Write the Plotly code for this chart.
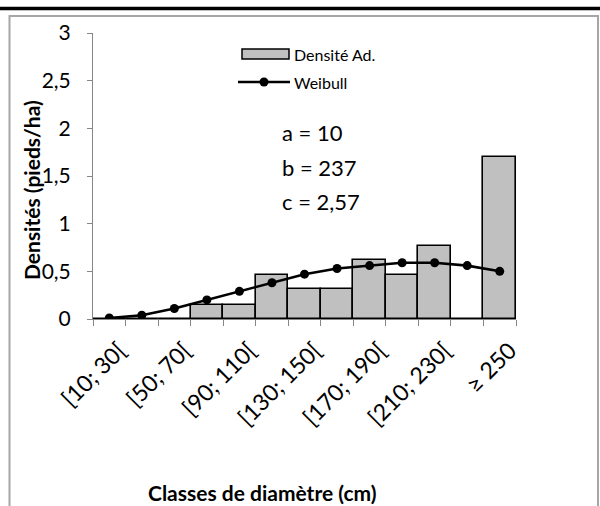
import plotly.graph_objects as go

# Diameter classes (cm), one bar per 20 cm class
classes = [
    "[10; 30[", "[30; 50[", "[50; 70[", "[70; 90[", "[90; 110[",
    "[110; 130[", "[130; 150[", "[150; 170[", "[170; 190[", "[190; 210[",
    "[210; 230[", "[230; 250[", "≥ 250",
]
# Observed adult density (stems/ha)
densite_ad = [0, 0, 0, 0.15, 0.15, 0.46, 0.31, 0.31, 0.62, 0.46, 0.77, 0, 1.70]
# Fitted Weibull density
weibull = [0.01, 0.04, 0.11, 0.20, 0.29, 0.38, 0.47, 0.53, 0.56, 0.59, 0.59, 0.56, 0.50]
# Weibull parameters shown on the chart
params = ["a = 10", "b = 237", "c = 2,57"]

FONT = "Lato, sans-serif"
W, H = 600, 506
L, R, T, B = 93, 516, 33, 319   # plot area in pixels


def px_x(x):
    return (x - L) / (R - L)


def px_y(y):
    return (B - y) / (B - T)


xpos = list(range(len(classes)))

fig = go.Figure()
fig.add_trace(go.Bar(
    x=xpos, y=densite_ad, width=1, name="Densité Ad.",
    marker=dict(color="#c0c0c0", line=dict(color="black", width=1.6)),
))
fig.add_trace(go.Scatter(
    x=xpos, y=weibull, mode="lines+markers", name="Weibull",
    line=dict(color="black", width=2.6),
    marker=dict(color="black", size=9),
))

# frame around the chart + thick rule on top
shapes = [
    dict(type="line", xref="paper", yref="paper", x0=px_x(0), x1=px_x(600),
         y0=px_y(8.5), y1=px_y(8.5), line=dict(color="black", width=3.5)),
    dict(type="rect", xref="paper", yref="paper", x0=px_x(9.5), x1=px_x(598),
         y0=px_y(16), y1=px_y(520), line=dict(color="#a6a6a6", width=2)),
    # legend symbols
    dict(type="rect", xref="paper", yref="paper", x0=px_x(242), x1=px_x(289),
         y0=px_y(49), y1=px_y(59), fillcolor="#c0c0c0", line=dict(color="black", width=1.5)),
    dict(type="line", xref="paper", yref="paper", x0=px_x(238), x1=px_x(290),
         y0=px_y(82), y1=px_y(82), line=dict(color="black", width=2.6)),
    dict(type="circle", xref="paper", yref="paper", x0=px_x(259.5), x1=px_x(268.5),
         y0=px_y(77.5), y1=px_y(86.5), fillcolor="black", line=dict(color="black", width=0)),
]

annotations = [
    dict(text="Densité Ad.", x=px_x(292), y=px_y(54), xanchor="left", yanchor="middle",
         font=dict(size=16)),
    dict(text="Weibull", x=px_x(292), y=px_y(82), xanchor="left", yanchor="middle",
         font=dict(size=16)),
    dict(text="<b>Densités (pieds/ha)</b>", x=px_x(31), y=px_y(190), textangle=-90,
         xanchor="center", yanchor="middle", font=dict(size=21)),
    dict(text="<b>Classes de diamètre (cm)</b>", x=px_x(262), y=px_y(492),
         xanchor="center", yanchor="middle", font=dict(size=21)),
]
for i, p in enumerate(params):
    annotations.append(dict(text=p, x=px_x(280), y=px_y(132 + 35 * i), xanchor="left",
                            yanchor="middle", font=dict(size=22)))
for a in annotations:
    a.update(xref="paper", yref="paper", showarrow=False)

fig.update_layout(
    width=W, height=H,
    margin=dict(l=L, r=W - R, t=T, b=H - B, pad=0),
    paper_bgcolor="white", plot_bgcolor="white",
    font=dict(family=FONT, color="black"),
    separators=", ",
    showlegend=False,
    bargap=0,
    shapes=shapes,
    annotations=annotations,
)
fig.update_xaxes(
    range=[-0.5, len(classes) - 0.5],
    tickmode="array", tickvals=xpos[::2], ticktext=classes[::2],
    tickangle=-45, tickfont=dict(size=23), ticks="",
    ticklabelstandoff=8, ticklabelshift=10,
    minor=dict(tickmode="linear", tick0=-0.5, dtick=1, ticks="outside",
               ticklen=6, tickcolor="#868686", tickwidth=1),
    showline=True, linecolor="#868686", linewidth=1,
    showgrid=False, zeroline=False,
)
fig.update_yaxes(
    range=[0, 3], dtick=0.5, tickfont=dict(size=21),
    ticks="outside", ticklen=5, tickcolor="#868686",
    ticklabelstandoff=12,
    showline=True, linecolor="#868686", linewidth=1,
    showgrid=False, zeroline=False,
)

# drop the browser's default body margin so the figure sits at the page origin
fig.write_html("out.html", config={"displayModeBar": False},
               post_script="document.body.style.margin = '0';")
